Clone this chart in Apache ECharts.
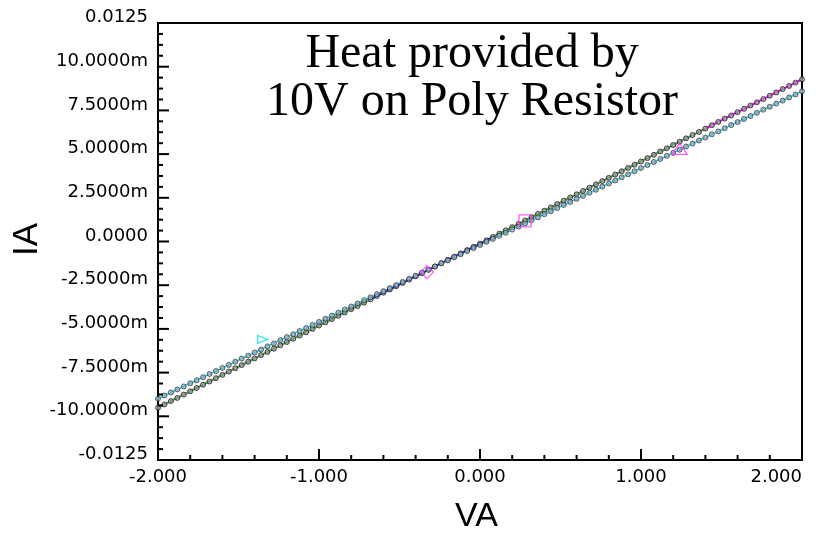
<!DOCTYPE html>
<html>
<head>
<meta charset="utf-8">
<script src="https://cdn.jsdelivr.net/npm/echarts@6/dist/echarts.min.js"></script>
<style>
html, body { margin: 0; padding: 0; background: #fff; }
#chart { width: 825px; height: 536px; }
</style>
</head>
<body>
<div id="chart"></div>
<script>
// sweep voltage (V), step 0.04
var volts = [
	-2.00, -1.96, -1.92, -1.88, -1.84, -1.80, -1.76, -1.72, -1.68, -1.64,
	-1.60, -1.56, -1.52, -1.48, -1.44, -1.40, -1.36, -1.32, -1.28, -1.24,
	-1.20, -1.16, -1.12, -1.08, -1.04, -1.00, -0.96, -0.92, -0.88, -0.84,
	-0.80, -0.76, -0.72, -0.68, -0.64, -0.60, -0.56, -0.52, -0.48, -0.44,
	-0.40, -0.36, -0.32, -0.28, -0.24, -0.20, -0.16, -0.12, -0.08, -0.04,
	0.00, 0.04, 0.08, 0.12, 0.16, 0.20, 0.24, 0.28, 0.32, 0.36,
	0.40, 0.44, 0.48, 0.52, 0.56, 0.60, 0.64, 0.68, 0.72, 0.76,
	0.80, 0.84, 0.88, 0.92, 0.96, 1.00, 1.04, 1.08, 1.12, 1.16,
	1.20, 1.24, 1.28, 1.32, 1.36, 1.40, 1.44, 1.48, 1.52, 1.56,
	1.60, 1.64, 1.68, 1.72, 1.76, 1.80, 1.84, 1.88, 1.92, 1.96,
	2.00
];
// current in mA, cold trace (steeper)
var currentCold = [
	-9.51, -9.32, -9.13, -8.95, -8.76, -8.57, -8.38, -8.19, -8.01, -7.82,
	-7.63, -7.44, -7.25, -7.07, -6.88, -6.69, -6.50, -6.32, -6.13, -5.94,
	-5.75, -5.56, -5.38, -5.19, -5.00, -4.81, -4.62, -4.44, -4.25, -4.06,
	-3.87, -3.69, -3.50, -3.31, -3.12, -2.93, -2.75, -2.56, -2.37, -2.18,
	-1.99, -1.81, -1.62, -1.43, -1.24, -1.05, -0.87, -0.68, -0.49, -0.30,
	-0.12, 0.07, 0.26, 0.45, 0.64, 0.82, 1.01, 1.20, 1.39, 1.58,
	1.76, 1.95, 2.14, 2.33, 2.52, 2.70, 2.89, 3.08, 3.27, 3.46,
	3.64, 3.83, 4.02, 4.21, 4.39, 4.58, 4.77, 4.96, 5.15, 5.33,
	5.52, 5.71, 5.90, 6.09, 6.27, 6.46, 6.65, 6.84, 7.03, 7.21,
	7.40, 7.59, 7.78, 7.96, 8.15, 8.34, 8.53, 8.72, 8.90, 9.09,
	9.28
];
// current in mA, heated trace (shallower)
var currentHeated = [
	-8.99, -8.81, -8.64, -8.46, -8.29, -8.11, -7.94, -7.76, -7.58, -7.41,
	-7.23, -7.06, -6.88, -6.70, -6.53, -6.35, -6.18, -6.00, -5.83, -5.65,
	-5.47, -5.30, -5.12, -4.95, -4.77, -4.60, -4.42, -4.24, -4.07, -3.89,
	-3.72, -3.54, -3.36, -3.19, -3.01, -2.84, -2.66, -2.49, -2.31, -2.13,
	-1.96, -1.78, -1.61, -1.43, -1.25, -1.08, -0.90, -0.73, -0.55, -0.38,
	-0.20, -0.02, 0.15, 0.33, 0.50, 0.68, 0.85, 1.03, 1.21, 1.38,
	1.56, 1.73, 1.91, 2.09, 2.26, 2.44, 2.61, 2.79, 2.96, 3.14,
	3.32, 3.49, 3.67, 3.84, 4.02, 4.20, 4.37, 4.55, 4.72, 4.90,
	5.07, 5.25, 5.43, 5.60, 5.78, 5.95, 6.13, 6.30, 6.48, 6.66,
	6.83, 7.01, 7.18, 7.36, 7.54, 7.71, 7.89, 8.06, 8.24, 8.41,
	8.59
];
// cursor markers [V, mA]
var cursorDiamond = [[-0.33, -1.75]];
var cursorSquare = [[0.28, 1.18]];
var cursorTriangle = [[1.24, 5.30]];
var cursorCyan = [[-1.35, -5.60]];

// tick positions (major ones carry labels)
var xTickValues = [-2, -1.8, -1.6, -1.4, -1.2, -1, -0.8, -0.6, -0.4, -0.2, 0,
	0.2, 0.4, 0.6, 0.8, 1, 1.2, 1.4, 1.6, 1.8, 2];
var yTickValues = [-12.5, -11.875, -11.25, -10.625, -10, -9.375, -8.75, -8.125, -7.5,
	-6.875, -6.25, -5.625, -5, -4.375, -3.75, -3.125, -2.5, -1.875, -1.25, -0.625, 0,
	0.625, 1.25, 1.875, 2.5, 3.125, 3.75, 4.375, 5, 5.625, 6.25, 6.875, 7.5,
	8.125, 8.75, 9.375, 10, 10.625, 11.25, 11.875, 12.5];

var titleLines = ['Heat provided by', '10V on Poly Resistor'];

function pairs(ys, from, to) {
	return volts.map(function (v, i) {
		return (v >= from && v <= to) ? [v, ys[i]] : [v, null];
	});
}

function yLabel(v) {
	if (Math.abs(Math.abs(v) - 12.5) < 1e-9) return (v / 1000).toFixed(4);
	if (Math.abs(v) < 1e-9) return '0.0000';
	return v.toFixed(4) + 'm';
}

function isMajor(v, step) {
	var r = Math.abs(v / step - Math.round(v / step));
	return r < 1e-6;
}

var myChart = echarts.init(document.getElementById('chart'));
var tickFont = { fontFamily: 'DejaVu Sans', fontSize: 18, color: '#000' };
var frameLine = { color: '#000', width: 2 };

var option = {
	animation: false,
	backgroundColor: '#fff',
	grid: {
		left: 158, right: 23, top: 23, bottom: 76,
		show: true, borderColor: '#000', borderWidth: 2, backgroundColor: 'transparent'
	},
	graphic: [
		{
			type: 'text', left: 266, top: 30, z: 100,
			style: {
				text: titleLines.join('\n'),
				font: '48px "Liberation Serif"', fill: '#000',
				textAlign: 'center', lineHeight: 48
			}
		},
		{
			type: 'text', left: 455, top: 500,
			style: { text: 'VA', font: '34px "Liberation Sans"', fill: '#000' }
		},
		{
			type: 'text', x: 10, y: 256, rotation: Math.PI / 2,
			style: { text: 'IA', font: '35px "Liberation Sans"', fill: '#000' }
		}
	],
	xAxis: {
		type: 'value', min: -2, max: 2, interval: 1,
		axisLine: { show: true, onZero: false, lineStyle: frameLine },
		axisTick: { show: false },
		splitLine: { show: false },
		axisLabel: Object.assign({
			margin: 8, alignMaxLabel: 'right',
			formatter: function (v) { return v.toFixed(3); }
		}, tickFont)
	},
	yAxis: {
		type: 'value', min: -12.5, max: 12.5, interval: 2.5,
		axisLine: { show: true, onZero: false, lineStyle: frameLine },
		axisTick: { show: false },
		splitLine: { show: false },
		axisLabel: Object.assign({
			margin: 10, verticalAlign: 'bottom', lineHeight: 11,
			formatter: yLabel
		}, tickFont)
	},
	series: [
		{
			// inward ticks on the bottom edge
			type: 'custom', silent: true, z: 10, clip: false,
			data: xTickValues.map(function (v) { return [v, -12.5]; }),
			renderItem: function (params, api) {
				var p = api.coord([api.value(0), api.value(1)]);
				var len = isMajor(api.value(0), 1) ? 11 : 5;
				return { type: 'line', shape: { x1: p[0], y1: p[1], x2: p[0], y2: p[1] - len },
					style: { stroke: '#000', lineWidth: 2 } };
			}
		},
		{
			// inward ticks on the left edge
			type: 'custom', silent: true, z: 10, clip: false,
			data: yTickValues.map(function (v) { return [-2, v]; }),
			renderItem: function (params, api) {
				var p = api.coord([api.value(0), api.value(1)]);
				var len = isMajor(api.value(1), 2.5) ? 11 : 5;
				return { type: 'line', shape: { x1: p[0], y1: p[1], x2: p[0] + len, y2: p[1] },
					style: { stroke: '#000', lineWidth: 2 } };
			}
		},
		{
			type: 'line', name: 'cold-m', showSymbol: false, z: 2,
			data: pairs(currentCold, -2, 2),
			lineStyle: { color: '#ff00ff', width: 2 }
		},
		{
			type: 'line', name: 'cold-g', showSymbol: false, z: 3,
			data: pairs(currentCold, -2, 1.4),
			lineStyle: { color: '#00e000', width: 1.5 }
		},
		{
			type: 'line', name: 'cold-b', showSymbol: false, z: 4,
			data: pairs(currentCold, -0.7, 0.1),
			lineStyle: { color: '#2020ff', width: 1.5 }
		},
		{
			type: 'line', name: 'heated', showSymbol: false, z: 3,
			data: pairs(currentHeated, -2, 2),
			lineStyle: { color: '#00e0f0', width: 1.5 }
		},
		{
			type: 'scatter', name: 'cold-pts', z: 5, symbol: 'circle', symbolSize: 5,
			data: pairs(currentCold, -2, 2),
			itemStyle: { color: '#999', borderColor: '#000', borderWidth: 0.8 }
		},
		{
			type: 'scatter', name: 'heated-pts', z: 5, symbol: 'circle', symbolSize: 5,
			data: pairs(currentHeated, -2, 2),
			itemStyle: { color: '#9ab', borderColor: '#222', borderWidth: 0.8 }
		},
		{
			type: 'scatter', z: 6, symbol: 'diamond', symbolSize: 13, data: cursorDiamond,
			itemStyle: { color: 'transparent', borderColor: '#ff33ff', borderWidth: 1.3 }
		},
		{
			type: 'scatter', z: 6, symbol: 'rect', symbolSize: 12, data: cursorSquare,
			itemStyle: { color: 'transparent', borderColor: '#ff33ff', borderWidth: 1.3 }
		},
		{
			type: 'scatter', z: 6, symbol: 'triangle', symbolSize: [15, 11], data: cursorTriangle,
			itemStyle: { color: 'transparent', borderColor: '#ff33ff', borderWidth: 1.3 }
		},
		{
			type: 'scatter', z: 6, symbol: 'triangle', symbolSize: [8, 10], symbolRotate: -90,
			data: cursorCyan,
			itemStyle: { color: 'transparent', borderColor: '#00e0f0', borderWidth: 1.3 }
		}
	]
};
myChart.setOption(option, true);
</script>
</body>
</html>
